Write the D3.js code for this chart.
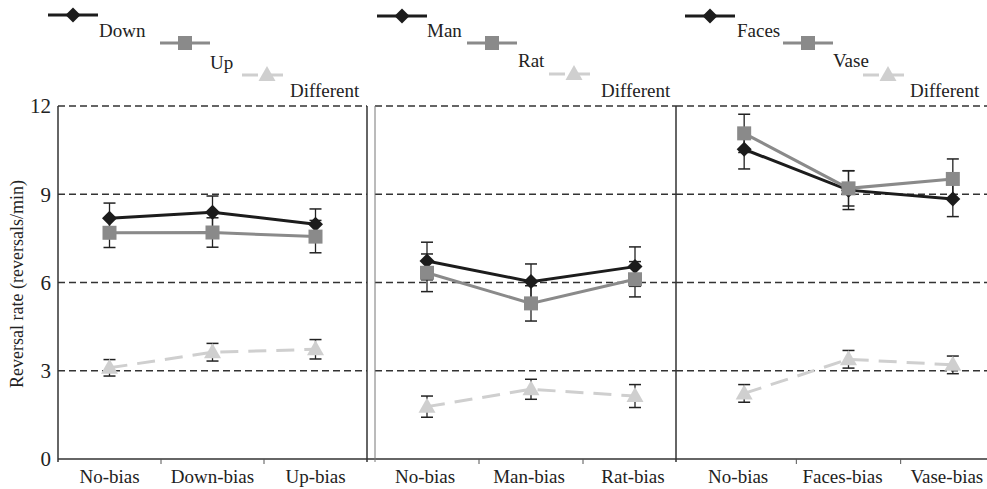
<!DOCTYPE html>
<html><head><meta charset="utf-8">
<script src="https://cdn.jsdelivr.net/npm/d3@7"></script>
<style>body{margin:0;background:#fff}svg{display:block}text{font-family:"Liberation Serif","Times New Roman",Times,"DejaVu Serif",serif;fill:#222}</style>
</head><body><svg id="c" width="987" height="489"></svg>
<script>
// ---- data ----
const yTicks = [0, 3, 6, 9, 12];
const cats1 = ["No-bias", "Down-bias", "Up-bias"];
const cats2 = ["No-bias", "Man-bias", "Rat-bias"];
const cats3 = ["No-bias", "Faces-bias", "Vase-bias"];
const names1 = ["Down", "Up", "Different"];
const names2 = ["Man", "Rat", "Different"];
const names3 = ["Faces", "Vase", "Different"];
// means per series [first, second, different]
const means1 = [[8.18, 8.39, 7.98], [7.69, 7.70, 7.56], [3.10, 3.63, 3.73]];
const errs1  = [[0.52, 0.55, 0.52], [0.50, 0.50, 0.55], [0.28, 0.30, 0.33]];
const means2 = [[6.73, 6.03, 6.54], [6.33, 5.29, 6.11], [1.78, 2.37, 2.14]];
const errs2  = [[0.64, 0.60, 0.67], [0.64, 0.60, 0.60], [0.36, 0.34, 0.39]];
const means3 = [[10.53, 9.14, 8.84], [11.07, 9.20, 9.52], [2.23, 3.39, 3.20]];
const errs3  = [[0.67, 0.66, 0.60], [0.65, 0.60, 0.68], [0.30, 0.30, 0.30]];

// ---- layout ----
const FONT = "'Liberation Serif','Times New Roman',Times,'DejaVu Serif',serif";
const svg = d3.select("#c");
const y = d3.scaleLinear().domain([0, 12]).range([459, 106]);
const colors = ["#1c1c1c", "#8a8a8a", "#cfcfcf"];
const panels = [
  {cats: cats1, names: names1, means: means1, errs: errs1, x0: 58, x1: 367, lblShift: 0,
   leg: [[48, 15, 99, 37], [160, 43, 210, 69], [242, 75, 290, 97]]},
  {cats: cats2, names: names2, means: means2, errs: errs2, x0: 375, x1: 687, lblShift: -2,
   leg: [[377, 16, 427, 37], [467, 43, 518, 67], [549, 74, 601, 97]]},
  {cats: cats3, names: names3, means: means3, errs: errs3, x0: 692, x1: 1005, lblShift: -6,
   leg: [[685, 16, 737, 37], [783, 43, 833, 67], [863, 75, 910, 97]]}
];
const gridEnds = [[58, 367], [375, 676], [676, 987]];

function marker(g, kind, cx, cy, color) {
  if (kind === 0) {
    g.append("path").attr("d", `M${cx},${cy-7.5}L${cx+7.5},${cy}L${cx},${cy+7.5}L${cx-7.5},${cy}Z`).attr("fill", color);
  } else if (kind === 1) {
    g.append("rect").attr("x", cx-7).attr("y", cy-7).attr("width", 14).attr("height", 14).attr("fill", color);
  } else {
    g.append("path").attr("d", `M${cx},${cy-9}L${cx+8.5},${cy+6}L${cx-8.5},${cy+6}Z`).attr("fill", color);
  }
}

// gridlines
gridEnds.forEach(([a, b]) => {
  svg.append("g").selectAll("line").data(yTicks.filter(t => t > 0)).join("line")
    .attr("x1", a).attr("x2", b).attr("y1", d => y(d)).attr("y2", d => y(d))
    .attr("stroke", "#333").attr("stroke-width", 1.4).attr("stroke-dasharray", "7,4");
});

// y axis labels (first panel)
svg.append("g").selectAll("text").data(yTicks).join("text")
  .attr("x", 51).attr("y", d => y(d)).attr("dy", "0.35em").attr("text-anchor", "end")
  .style("font-family", FONT).style("font-size", "21px").text(d => d);
svg.append("text").attr("transform", "translate(23,284) rotate(-90)").attr("text-anchor", "middle")
  .style("font-family", FONT).style("font-size", "18px").text("Reversal rate (reversals/min)");

// baseline and borders
svg.append("line").attr("x1", 58).attr("x2", 987).attr("y1", 459).attr("y2", 459).attr("stroke", "#333").attr("stroke-width", 1.5);
[[58, 1.5, "#333"], [367, 1.5, "#333"], [375, 1, "#777"], [676, 1.5, "#333"]].forEach(([x, w, c]) =>
  svg.append("line").attr("x1", x).attr("x2", x).attr("y1", 106).attr("y2", 462).attr("stroke", c).attr("stroke-width", w));

panels.forEach(p => {
  const x = d3.scaleBand().domain(p.cats).range([p.x0, p.x1]);
  const g = svg.append("g");
  // x tick marks at band boundaries
  g.selectAll("line.tk").data(p.cats.slice(1)).join("line")
    .attr("x1", d => x(d)).attr("x2", d => x(d)).attr("y1", 459).attr("y2", 464).attr("stroke", "#555");
  // x labels via axis
  const ax = g.append("g").attr("transform", `translate(${p.lblShift},459)`)
    .call(d3.axisBottom(x).tickSize(0).tickPadding(11));
  ax.attr("font-family", null).attr("font-size", null);
  ax.select(".domain").remove();
  ax.selectAll("text").style("font-size", "19px").style("font-family", FONT).attr("fill", "#222");

  const cx = d => x(d) + x.bandwidth() / 2;
  // series lines (different first, then first, then second)
  [2, 0, 1].forEach(s => {
    const pts = p.cats.map((c, i) => [cx(c), y(p.means[s][i])]);
    g.append("path").attr("d", d3.line()(pts)).attr("fill", "none")
      .attr("stroke", colors[s]).attr("stroke-width", 3)
      .attr("stroke-dasharray", s === 2 ? "18,10" : null);
  });
  // error bars
  [2, 0, 1].forEach(s => {
    p.cats.forEach((c, i) => {
      const m = p.means[s][i], e = p.errs[s][i], xx = cx(c);
      g.append("line").attr("x1", xx).attr("x2", xx).attr("y1", y(m + e)).attr("y2", y(m - e)).attr("stroke", "#222").attr("stroke-width", 1.3);
      [m + e, m - e].forEach(v => g.append("line").attr("x1", xx - 6).attr("x2", xx + 6).attr("y1", y(v)).attr("y2", y(v)).attr("stroke", "#222").attr("stroke-width", 1.5));
    });
  });
  // markers
  [2, 0, 1].forEach(s => {
    p.cats.forEach((c, i) => marker(g, s, cx(c), y(p.means[s][i]), colors[s]));
  });
  // legend
  p.leg.forEach(([lx, ly, tx, ty], s) => {
    g.append("line").attr("x1", lx).attr("x2", lx + 50).attr("y1", ly).attr("y2", ly)
      .attr("stroke", colors[s]).attr("stroke-width", 3).attr("stroke-dasharray", s === 2 ? "16,9" : null);
    marker(g, s, lx + 25, ly, colors[s]);
    g.append("text").attr("x", tx).attr("y", ty).style("font-family", FONT).style("font-size", "19px").text(p.names[s]);
  });
});
</script></body></html>
